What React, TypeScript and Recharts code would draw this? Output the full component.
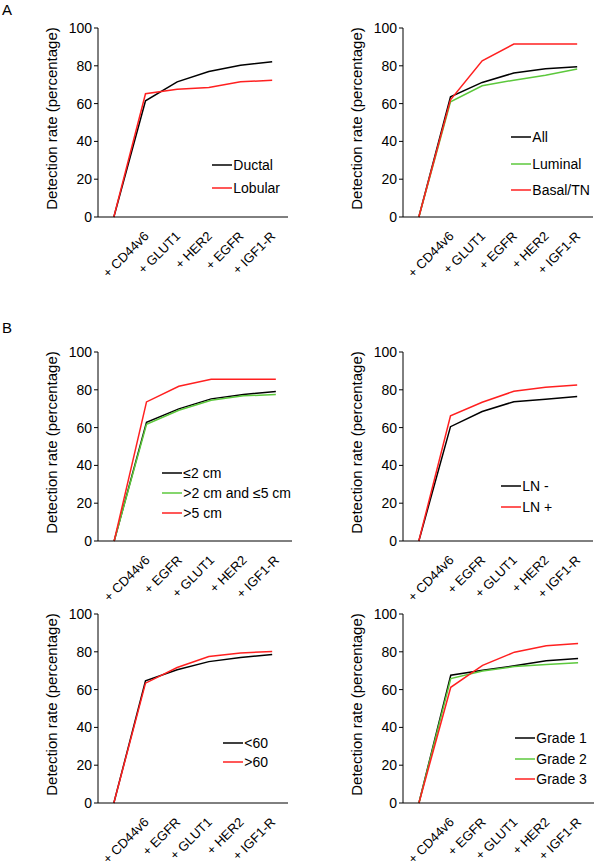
import React from 'react';
import { LineChart, Line, XAxis, YAxis, Legend } from 'recharts';

const catsA1 = ['', '+ CD44v6', '+ GLUT1', '+ HER2', '+ EGFR', '+ IGF1-R'];
const catsA2 = ['', '+ CD44v6', '+ GLUT1', '+ EGFR', '+ HER2', '+ IGF1-R'];
const catsB = ['', '+ CD44v6', '+ EGFR', '+ GLUT1', '+ HER2', '+ IGF1-R'];

const ductal = [0, 61.5, 71.5, 77, 80.3, 82.2];
const lobular = [0, 65.2, 67.6, 68.5, 71.5, 72.4];

const allCases = [0, 63.6, 71.2, 76.2, 78.5, 79.5];
const luminal = [0, 61, 69.4, 72.4, 75, 78.3];
const basalTN = [0, 62, 82.6, 91.5, 91.5, 91.5];

const size2 = [0, 62.8, 69.9, 75.2, 77.5, 79.1];
const size2to5 = [0, 61.8, 69.2, 74.5, 76.8, 77.5];
const size5 = [0, 73.6, 81.9, 85.6, 85.6, 85.6];

const lnNeg = [0, 60.5, 68.5, 73.7, 75, 76.4];
const lnPos = [0, 66.2, 73.4, 79.2, 81.4, 82.5];

const ageUnder60 = [0, 64.6, 70.5, 74.8, 77, 78.6];
const ageOver60 = [0, 63.4, 71.7, 77.5, 79.4, 80.1];

const grade1 = [0, 67.6, 70.2, 72.6, 75.3, 76.5];
const grade2 = [0, 65.8, 69.8, 72.2, 73.3, 74.2];
const grade3 = [0, 61.2, 72.8, 79.8, 83.2, 84.4];

const yTicks = [0, 20, 40, 60, 80, 100];
const bandTicks = [0, 1, 2, 3, 4, 5, 6];
const labelTicks = [1.5, 2.5, 3.5, 4.5, 5.5];

const BLACK = '#000000';
const GREEN = '#5cc83c';
const RED = '#ff2020';

type Series = { name: string; color: string; values: number[] };

type PanelProps = {
  cats: string[];
  series: Series[];
  left: number;
  top: number;
  plotW: number;
  labelH: number;
  legendX: number;
  legendY: number;
  legendGap: number;
};

const PLOT_H = 189;
const AXIS_W = 90;

function Panel({ cats, series, left, top, plotW, labelH, legendX, legendY, legendGap }: PanelProps) {
  const data = cats.map((c, i) => {
    const row: Record<string, number | string> = { x: i + 0.5, cat: c };
    series.forEach((s, k) => {
      row['s' + k] = s.values[i];
    });
    return row;
  });

  const width = AXIS_W + plotW + 10;
  const height = 10 + PLOT_H + 8 + labelH;

  return (
    <div style={{ position: 'absolute', left, top }}>
      <LineChart
        width={width}
        height={height}
        data={data}
        margin={{ top: 10, right: 10, left: 0, bottom: 0 }}
      >
        <XAxis
          type="number"
          dataKey="x"
          domain={[0, 6]}
          ticks={bandTicks}
          tick={false}
          tickSize={5}
          height={8}
          stroke={BLACK}
        />
        <XAxis
          xAxisId="lab"
          type="number"
          dataKey="x"
          domain={[0, 6]}
          ticks={labelTicks}
          axisLine={false}
          tickLine={false}
          tickSize={0}
          tickMargin={0}
          height={labelH}
          interval={0}
          tick={(p: any) => {
            const x = p.x + 4;
            const y = p.y + 12;
            return (
              <text
                x={x}
                y={y}
                textAnchor="end"
                fontSize={13}
                fill={BLACK}
                transform={`rotate(-45, ${x}, ${y})`}
              >
                {cats[Math.floor(p.payload.value)]}
              </text>
            );
          }}
        />
        <YAxis
          domain={[0, 100]}
          ticks={yTicks}
          width={AXIS_W}
          tickSize={4}
          tickMargin={2}
          stroke={BLACK}
          tick={{ fill: BLACK, fontSize: 14 }}
          interval={0}
          label={{
            content: (p: any) => {
              const vb = p.viewBox || {};
              const cx = vb.x + vb.width - 46.5;
              const cy = vb.y + vb.height / 2 - 4;
              return (
                <text
                  x={cx}
                  y={cy}
                  textAnchor="middle"
                  dominantBaseline="central"
                  fontSize={15}
                  fill={BLACK}
                  transform={`rotate(-90, ${cx}, ${cy})`}
                >
                  Detection rate (percentage)
                </text>
              );
            },
          }}
        />
        <Legend
          layout="vertical"
          align="center"
          verticalAlign="middle"
          wrapperStyle={{ left: legendX, top: legendY, width: 'auto', height: 'auto' }}
          content={() => (
            <div>
              {series.map((s) => (
                <div
                  key={s.name}
                  style={{
                    display: 'flex',
                    alignItems: 'center',
                    height: legendGap,
                    fontSize: 14,
                    color: BLACK,
                    whiteSpace: 'nowrap',
                  }}
                >
                  <svg width={21} height={4} style={{ display: 'block' }}>
                    <line x1={0} y1={2} x2={20} y2={2} stroke={s.color} strokeWidth={1.5} />
                  </svg>
                  <span>{s.name}</span>
                </div>
              ))}
            </div>
          )}
        />
        {series.map((s, k) => (
          <Line
            key={s.name}
            type="linear"
            dataKey={'s' + k}
            name={s.name}
            stroke={s.color}
            strokeWidth={1.5}
            dot={false}
            activeDot={false}
            isAnimationActive={false}
          />
        ))}
      </LineChart>
    </div>
  );
}

export default function App() {
  const L = 98.3 - AXIS_W;
  const R = 403.3 - AXIS_W;
  return (
    <div
      style={{
        position: 'absolute',
        left: 0,
        top: 0,
        width: 600,
        height: 868,
        background: '#fff',
        fontFamily: '"Liberation Sans", Arial, sans-serif',
      }}
    >
      <div style={{ position: 'absolute', left: 2, top: 1, fontSize: 15 }}>A</div>
      <div style={{ position: 'absolute', left: 2, top: 319, fontSize: 15 }}>B</div>

      <Panel
        cats={catsA1}
        series={[
          { name: 'Ductal', color: BLACK, values: ductal },
          { name: 'Lobular', color: RED, values: lobular },
        ]}
        left={L}
        top={28 - 10}
        plotW={190}
        labelH={62}
        legendX={204}
        legendY={135}
        legendGap={23}
      />
      <Panel
        cats={catsA2}
        series={[
          { name: 'All', color: BLACK, values: allCases },
          { name: 'Luminal', color: GREEN, values: luminal },
          { name: 'Basal/TN', color: RED, values: basalTN },
        ]}
        left={R}
        top={28 - 10}
        plotW={190}
        labelH={62}
        legendX={198}
        legendY={106}
        legendGap={26.5}
      />
      <Panel
        cats={catsB}
        series={[
          { name: '≤2 cm', color: BLACK, values: size2 },
          { name: '>2 cm and ≤5 cm', color: GREEN, values: size2to5 },
          { name: '>5 cm', color: RED, values: size5 },
        ]}
        left={L}
        top={352 - 10}
        plotW={194}
        labelH={62}
        legendX={154}
        legendY={121}
        legendGap={20}
      />
      <Panel
        cats={catsB}
        series={[
          { name: 'LN -', color: BLACK, values: lnNeg },
          { name: 'LN +', color: RED, values: lnPos },
        ]}
        left={R}
        top={352 - 10}
        plotW={190}
        labelH={62}
        legendX={188}
        legendY={134}
        legendGap={20.6}
      />
      <Panel
        cats={catsB}
        series={[
          { name: '<60', color: BLACK, values: ageUnder60 },
          { name: '>60', color: RED, values: ageOver60 },
        ]}
        left={L}
        top={614 - 10}
        plotW={190}
        labelH={56}
        legendX={215}
        legendY={129}
        legendGap={19.5}
      />
      <Panel
        cats={catsB}
        series={[
          { name: 'Grade 1', color: BLACK, values: grade1 },
          { name: 'Grade 2', color: GREEN, values: grade2 },
          { name: 'Grade 3', color: RED, values: grade3 },
        ]}
        left={R}
        top={614 - 10}
        plotW={191}
        labelH={56}
        legendX={202}
        legendY={124}
        legendGap={20.5}
      />
    </div>
  );
}
